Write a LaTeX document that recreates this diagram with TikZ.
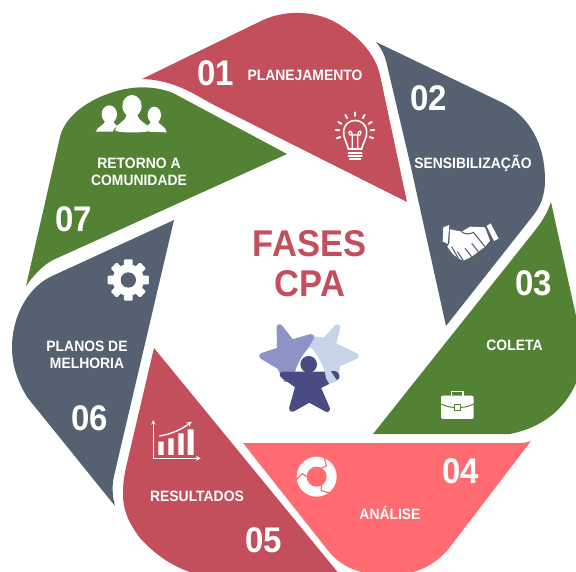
\documentclass[tikz,border=0pt]{standalone}
\usepackage{graphicx}
\usepackage{fontspec}
\usetikzlibrary{calc}
\setmainfont{Liberation Sans}
\definecolor{cred}{HTML}{C34F5C}
\definecolor{cslate}{HTML}{556170}
\definecolor{cgreen}{HTML}{548234}
\definecolor{ccoral}{HTML}{FF6B70}
\definecolor{sLight}{HTML}{C6D3EA}
\definecolor{sMid}{HTML}{8D93C7}
\definecolor{sDark}{HTML}{4A4B82}
\newcommand{\numtxt}[1]{\scalebox{1}[1.08]{\fontsize{33}{33}\selectfont\bfseries #1}}
\newcommand{\lbltxt}[1]{\scalebox{1}[1.08]{\fontsize{13.9}{13.9}\selectfont\bfseries #1}}
\tikzset{
  num/.style={text=white,inner sep=0pt,anchor=center},
  lbl/.style={text=white,inner sep=0pt,anchor=center,align=center},
  ttl/.style={text=cred,inner sep=0pt,anchor=center},
  ico/.style={white,line width=1.6pt},
  star/.style={line width=6pt,line join=round},
  iconscope/.style={x=0.33333pt,y=-0.33333pt}
}
\begin{document}
\begin{tikzpicture}[x=1pt,y=-1pt]
\useasboundingbox (0,0) rectangle (576,572);
\clip (0,0) rectangle (576,572);
% 01
\fill[cred] (142,79) -- (263,20) .. controls (285,10) and (318,9) .. (343,27) .. controls (362,40) and (375,55) .. (380,75) -- (407,202) -- (214,105) .. controls (195,95) and (175,80) .. (142,79) -- cycle;
% 02
\fill[cslate] (376,42) -- (503,103) .. controls (530,117) and (545,145) .. (545,180) .. controls (545,195) and (541,206) .. (532,217) -- (446,326) -- (410,163) -- (387,65) .. controls (385,55) and (381,48) .. (376,42) -- cycle;
% 03
\fill[cgreen] (551,202) -- (578,325) -- (578,378) .. controls (572,395) and (555,425) .. (510,434) -- (373,434) -- (533,233) .. controls (541,223) and (547,214) .. (551,202) -- cycle;
% 04
\fill[ccoral] (243,443) -- (520,443) .. controls (525,443) and (528,442) .. (531,441) -- (450,547) .. controls (435,566) and (415,575) .. (390,575) .. controls (365,575) and (345,570) .. (330,553) -- cycle;
% 05
\fill[cred] (154,348) -- (340,575) -- (200,575) .. controls (180,570) and (160,560) .. (140,538) .. controls (128,522) and (123,510) .. (123,493) .. controls (123,480) and (125,472) .. (127,463) -- cycle;
% 06
\fill[cslate] (174,220) -- (50,277) .. controls (25,290) and (12,320) .. (12,347) .. controls (12,365) and (17,380) .. (27,397) -- (115,506) .. controls (112,495) and (112,485) .. (114,476) -- cycle;
% 07
\fill[cgreen] (287,154) -- (173,93) .. controls (150,84) and (125,86) .. (100,97) .. controls (80,106) and (64,120) .. (60,137) -- (26,286) .. controls (33,276) and (43,265) .. (53,260) -- cycle;

% title
\node[ttl] (tfases) at (309.5,243.5) {\scalebox{1}[1.08]{\fontsize{34.5}{34.5}\selectfont\bfseries FASES}};
\node[ttl] (tcpa) at (310,284) {\scalebox{1}[1.08]{\fontsize{34.5}{34.5}\selectfont\bfseries CPA}};

% logo
\begin{scope}[shift={(230,210)},iconscope]
  \filldraw[sLight,star] (322,352) -- (308,405) -- (378,438) -- (322,462) -- (316,505) -- (292,505) -- (280,470) -- (225,385) -- (285,392) -- cycle;
  \filldraw[sMid,star] (149,352) -- (185,398) -- (244,381) -- (208,440) -- (198,488) -- (168,508) -- (150,470) -- (96,438) -- (150,420) -- cycle;
  \fill[white] (240,412) .. controls (255,420) and (275,460) .. (285,486) -- (195,486) .. controls (205,455) and (222,425) .. (240,412) -- cycle;
  \filldraw[sDark,star] (158,494) -- (285,494) -- (316,492) -- (320,500) -- (262,530) -- (291,597) -- (238,568) -- (186,597) -- (205,528) -- cycle;
  \fill[sDark] (236,463) circle (25);
  \fill[sLight,line join=round] (283,476) -- (297,476) -- (320,510) -- (298,522) -- (288,505) -- cycle;
\end{scope}

% numbers
\node[num] (n1) at (216,73) {\numtxt{01}};
\node[num] (n2) at (429,98) {\numtxt{02}};
\node[num] (n3) at (534,283) {\numtxt{03}};
\node[num] (n4) at (461,471) {\numtxt{04}};
\node[num] (n5) at (264,540) {\numtxt{05}};
\node[num] (n6) at (90,418) {\numtxt{06}};
\node[num] (n7) at (74,219) {\numtxt{07}};

% labels
\node[lbl] (l1) at (305,75) {\lbltxt{PLANEJAMENTO}};
\node[lbl] (l2) at (473,163) {\lbltxt{SENSIBILIZAÇÃO}};
\node[lbl] (l3) at (514.5,345) {\lbltxt{COLETA}};
\node[lbl] (l4) at (390,513) {\lbltxt{ANÁLISE}};
\node[lbl] (l5) at (197,496) {\lbltxt{RESULTADOS}};
\node[lbl] (l6a) at (87,346) {\lbltxt{PLANOS DE}};
\node[lbl] (l6b) at (87,363) {\lbltxt{MELHORIA}};
\node[lbl] (l7a) at (139,163) {\lbltxt{RETORNO A}};
\node[lbl] (l7b) at (139,180) {\lbltxt{COMUNIDADE}};

% bulb icon
\begin{scope}[shift={(130,0)},iconscope]
  \draw[ico] (655,447) .. controls (650,425) and (640,415) .. (641,395) .. controls (643,350) and (708,350) .. (710,395) .. controls (711,415) and (700,425) .. (695,447) -- cycle;
  \draw[ico,line width=1.3pt] (667,447) -- (667,405) .. controls (667,388) and (650,392) .. (660,405) -- (690,405) .. controls (700,392) and (683,388) .. (683,405) -- (683,447);
  \draw[white,line width=2.2pt,line cap=round] (656,458) -- (695,458) (656,467) -- (695,467) (660,476) -- (691,476);
  \foreach \a in {-90,-60,-30,-5,20,160,185,210,240}
    \draw[white,line width=1.9pt,line cap=round] (675,395) ++(\a:47) -- ++(\a:11);
\end{scope}

% handshake icon
\begin{scope}[shift={(370,30)},iconscope]
  \fill[white] (220,592) -- (238,585) -- (233,642) -- (218,634) -- cycle;
  \fill[white] (362,580) -- (386,626) -- (372,633) -- (350,588) -- cycle;
  \fill[white] (240,598) -- (275,605) -- (300,590) -- (345,592) -- (360,632) -- (345,650) -- (325,665) -- (305,680) -- (280,692) -- (265,685) -- (248,672) -- (232,650) -- (238,640) -- cycle;
  \draw[cslate,line width=1.1pt] (275,605) .. controls (285,615) and (300,612) .. (310,607) -- (345,650);
  \draw[cslate,line width=1.1pt] (325,665) -- (305,640) (305,680) -- (285,655) (280,692) -- (262,665) (265,685) -- (245,650);
\end{scope}

% briefcase icon
\begin{scope}[shift={(370,30)},iconscope]
  \fill[white,rounded corners=2pt] (213,1097) rectangle (311,1167);
  \draw[white,line width=1.3pt] (245,1097) -- (245,1084) -- (279,1084) -- (279,1097);
  \draw[cgreen,line width=1pt] (213,1122) .. controls (230,1130) and (240,1132) .. (254,1132) (270,1132) .. controls (285,1132) and (295,1130) .. (311,1122);
  \draw[cgreen,line width=1pt,fill=white] (254,1125) rectangle (270,1141);
\end{scope}

% cycle icon
\begin{scope}[shift={(110,340)},iconscope]
  \fill[white] (620,410) circle (60);
  \fill[ccoral] (620,410) circle (30);
  \foreach \a in {-70,50,170}
    \draw[ccoral,line width=1.2pt] (620,410) ++(\a:64) -- ($(620,410)+({\a+22}:44)$) -- ($(620,410)+(\a:24)$);
\end{scope}

% chart icon
\begin{scope}[shift={(110,340)},iconscope]
  \draw[white,line width=1.1pt,-stealth] (130,355) -- (130,240);
  \draw[white,line width=1.1pt,-stealth] (130,355) -- (272,355);
  \fill[white] (145,305) rectangle (161,345) (175,295) rectangle (191,345) (205,280) rectangle (221,345) (233,268) rectangle (251,345);
  \draw[white,line width=1.3pt,-stealth] (148,288) .. controls (185,282) and (215,268) .. (245,245);
\end{scope}

% gear icon
\begin{scope}[shift={(0,80)},iconscope]
  \fill[white] (385,600) circle (47);
  \foreach \a in {0,45,...,315}
    \fill[white,rotate around={\a:(385,600)},rounded corners=1pt] (372,538) rectangle (398,565);
  \fill[cslate] (385,600) circle (23);
\end{scope}

% people icon
\begin{scope}[shift={(0,80)},iconscope]
  \fill[white] (328,103) ellipse (23 and 27);
  \fill[white] (288,155) .. controls (290,140) and (315,135) .. (316,122) -- (340,122) .. controls (342,130) and (345,135) .. (352,138) .. controls (345,142) and (340,148) .. (338,155) -- cycle;
  \fill[white] (463,105) ellipse (20 and 25);
  \fill[white] (445,155) .. controls (448,148) and (445,143) .. (440,138) .. controls (450,132) and (452,128) .. (453,122) -- (473,122) .. controls (475,135) and (498,138) .. (500,157) -- cycle;
  \fill[white] (396,78) ellipse (29 and 33);
  \fill[white] (345,150) .. controls (348,130) and (378,125) .. (380,105) -- (412,105) .. controls (415,125) and (445,130) .. (450,150) .. controls (450,160) and (345,160) .. (345,150) -- cycle;
\end{scope}
\end{tikzpicture}
\end{document}
